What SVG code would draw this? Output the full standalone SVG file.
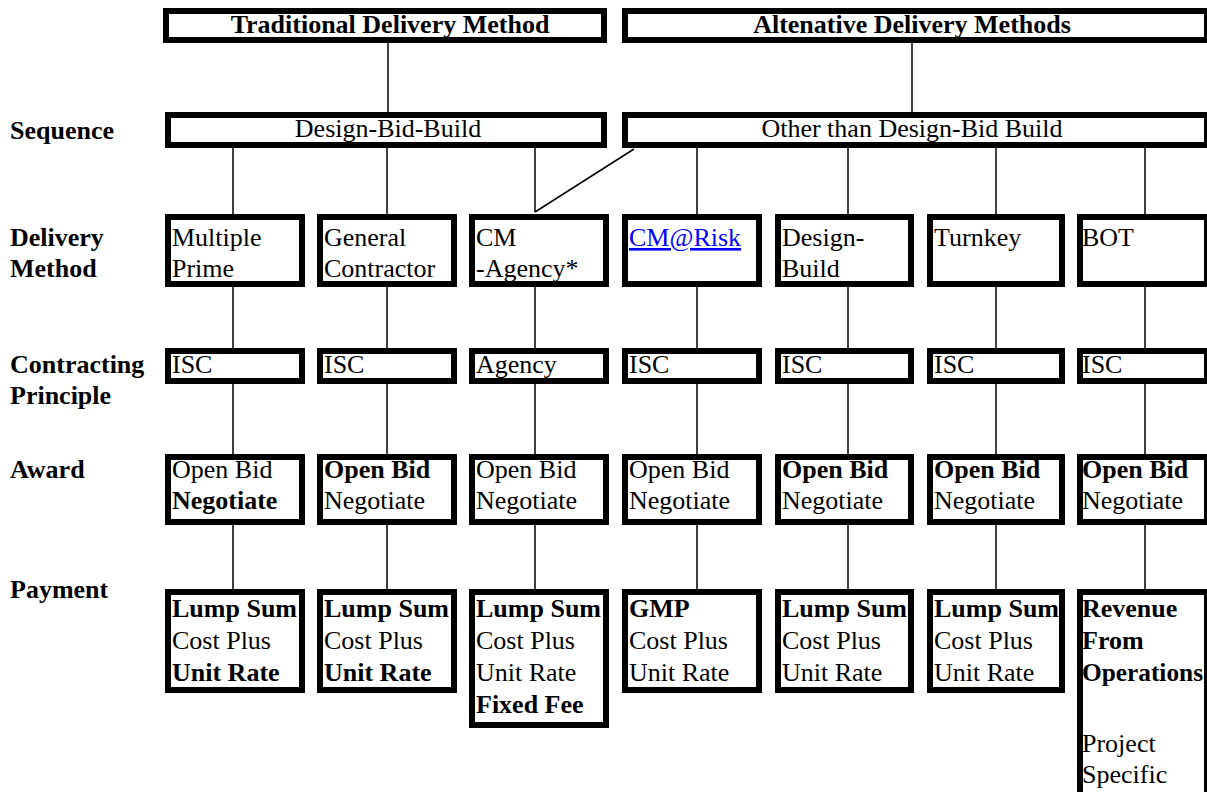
<svg xmlns="http://www.w3.org/2000/svg" width="1207" height="792" viewBox="0 0 1207 792">
  <style>
    text { font-family: "Liberation Serif", "Times New Roman", serif; font-size: 26px; fill: #000; }
    .b { font-weight: bold; }
    .c { text-anchor: middle; }
    .box { fill: #fff; stroke: #000; stroke-width: 6; }
    .link { fill: #0000ff; text-decoration: underline; }
    #connectors line { stroke: #000; stroke-width: 1.5; }
  </style>

  <!-- connectors -->
  <g id="connectors">
    <line x1="388" y1="43" x2="388" y2="112"/>
    <line x1="912" y1="43" x2="912" y2="112"/>
    <line x1="233" y1="148" x2="233" y2="214"/>
    <line x1="387" y1="148" x2="387" y2="214"/>
    <line x1="535" y1="148" x2="535" y2="212"/>
    <line x1="535" y1="212" x2="634" y2="149"/>
    <line x1="697" y1="148" x2="697" y2="214"/>
    <line x1="848" y1="148" x2="848" y2="214"/>
    <line x1="996" y1="148" x2="996" y2="214"/>
    <line x1="1145" y1="148" x2="1145" y2="214"/>
    <line x1="233" y1="287" x2="233" y2="348"/>
    <line x1="387" y1="287" x2="387" y2="348"/>
    <line x1="535" y1="287" x2="535" y2="348"/>
    <line x1="697" y1="287" x2="697" y2="348"/>
    <line x1="848" y1="287" x2="848" y2="348"/>
    <line x1="996" y1="287" x2="996" y2="348"/>
    <line x1="1145" y1="287" x2="1145" y2="348"/>
    <line x1="233" y1="384" x2="233" y2="454"/>
    <line x1="387" y1="384" x2="387" y2="454"/>
    <line x1="535" y1="384" x2="535" y2="454"/>
    <line x1="697" y1="384" x2="697" y2="454"/>
    <line x1="848" y1="384" x2="848" y2="454"/>
    <line x1="996" y1="384" x2="996" y2="454"/>
    <line x1="1145" y1="384" x2="1145" y2="454"/>
    <line x1="233" y1="525" x2="233" y2="589"/>
    <line x1="387" y1="525" x2="387" y2="589"/>
    <line x1="535" y1="525" x2="535" y2="589"/>
    <line x1="697" y1="525" x2="697" y2="589"/>
    <line x1="848" y1="525" x2="848" y2="589"/>
    <line x1="996" y1="525" x2="996" y2="589"/>
    <line x1="1145" y1="525" x2="1145" y2="589"/>
  </g>

  <!-- row labels -->
  <g id="labels">
    <text class="b" x="10" y="139">Sequence</text>
    <text class="b" x="10" y="246">Delivery</text>
    <text class="b" x="10" y="277">Method</text>
    <text class="b" x="10" y="373">Contracting</text>
    <text class="b" x="10" y="404">Principle</text>
    <text class="b" x="10" y="478">Award</text>
    <text class="b" x="10" y="598">Payment</text>
  </g>

  <!-- headers -->
  <g id="traditional">
    <rect class="box" x="166" y="11" width="438" height="29"/>
    <text class="b c" x="390" y="33">Traditional Delivery Method</text>
  </g>
  <g id="alternative">
    <rect class="box" x="625" y="11" width="582" height="29"/>
    <text class="b c" x="912" y="33">Altenative Delivery Methods</text>
  </g>

  <!-- sequence -->
  <g id="seq-dbb">
    <rect class="box" x="168" y="115" width="436" height="30"/>
    <text class="c" x="388" y="137">Design-Bid-Build</text>
  </g>
  <g id="seq-other">
    <rect class="box" x="625" y="115" width="582" height="30"/>
    <text class="c" x="912" y="137">Other than Design-Bid Build</text>
  </g>

  <!-- delivery methods -->
  <g id="dm-multiple-prime">
    <rect class="box" x="168" y="217" width="134" height="67"/>
    <text x="172" y="246">Multiple</text><text x="172" y="277">Prime</text>
  </g>
  <g id="dm-general-contractor">
    <rect class="box" x="320" y="217" width="134" height="67"/>
    <text x="324" y="246">General</text><text x="324" y="277">Contractor</text>
  </g>
  <g id="dm-cm-agency">
    <rect class="box" x="472" y="217" width="134" height="67"/>
    <text x="476" y="246">CM</text><text x="476" y="277">-Agency*</text>
  </g>
  <g id="dm-cm-risk">
    <rect class="box" x="625" y="217" width="134" height="67"/>
    <text class="link" x="629" y="246">CM@Risk</text>
  </g>
  <g id="dm-design-build">
    <rect class="box" x="778" y="217" width="133" height="67"/>
    <text x="782" y="246">Design-</text><text x="782" y="277">Build</text>
  </g>
  <g id="dm-turnkey">
    <rect class="box" x="930" y="217" width="132" height="67"/>
    <text x="934" y="246">Turnkey</text>
  </g>
  <g id="dm-bot">
    <rect class="box" x="1080" y="217" width="127" height="67"/>
    <text x="1082" y="246">BOT</text>
  </g>

  <!-- contracting principle -->
  <g id="cp-1"><rect class="box" x="168" y="351" width="134" height="30"/><text x="172" y="373">ISC</text></g>
  <g id="cp-2"><rect class="box" x="320" y="351" width="134" height="30"/><text x="324" y="373">ISC</text></g>
  <g id="cp-3"><rect class="box" x="472" y="351" width="134" height="30"/><text x="476" y="373">Agency</text></g>
  <g id="cp-4"><rect class="box" x="625" y="351" width="134" height="30"/><text x="629" y="373">ISC</text></g>
  <g id="cp-5"><rect class="box" x="778" y="351" width="133" height="30"/><text x="782" y="373">ISC</text></g>
  <g id="cp-6"><rect class="box" x="930" y="351" width="132" height="30"/><text x="934" y="373">ISC</text></g>
  <g id="cp-7"><rect class="box" x="1080" y="351" width="127" height="30"/><text x="1082" y="373">ISC</text></g>

  <!-- award -->
  <g id="aw-1"><rect class="box" x="168" y="457" width="134" height="65"/>
    <text x="172" y="478">Open Bid</text><text class="b" x="172" y="509">Negotiate</text></g>
  <g id="aw-2"><rect class="box" x="320" y="457" width="134" height="65"/>
    <text class="b" x="324" y="478">Open Bid</text><text x="324" y="509">Negotiate</text></g>
  <g id="aw-3"><rect class="box" x="472" y="457" width="134" height="65"/>
    <text x="476" y="478">Open Bid</text><text x="476" y="509">Negotiate</text></g>
  <g id="aw-4"><rect class="box" x="625" y="457" width="134" height="65"/>
    <text x="629" y="478">Open Bid</text><text x="629" y="509">Negotiate</text></g>
  <g id="aw-5"><rect class="box" x="778" y="457" width="133" height="65"/>
    <text class="b" x="782" y="478">Open Bid</text><text x="782" y="509">Negotiate</text></g>
  <g id="aw-6"><rect class="box" x="930" y="457" width="132" height="65"/>
    <text class="b" x="934" y="478">Open Bid</text><text x="934" y="509">Negotiate</text></g>
  <g id="aw-7"><rect class="box" x="1080" y="457" width="127" height="65"/>
    <text class="b" x="1082" y="478">Open Bid</text><text x="1082" y="509">Negotiate</text></g>

  <!-- payment -->
  <g id="pay-1"><rect class="box" x="168" y="592" width="134" height="98"/>
    <text class="b" x="172" y="617">Lump Sum</text><text x="172" y="649">Cost Plus</text><text class="b" x="172" y="681">Unit Rate</text></g>
  <g id="pay-2"><rect class="box" x="320" y="592" width="134" height="98"/>
    <text class="b" x="324" y="617">Lump Sum</text><text x="324" y="649">Cost Plus</text><text class="b" x="324" y="681">Unit Rate</text></g>
  <g id="pay-3"><rect class="box" x="472" y="592" width="134" height="133"/>
    <text class="b" x="476" y="617">Lump Sum</text><text x="476" y="649">Cost Plus</text><text x="476" y="681">Unit Rate</text><text class="b" x="476" y="713">Fixed Fee</text></g>
  <g id="pay-4"><rect class="box" x="625" y="592" width="134" height="98"/>
    <text class="b" x="629" y="617">GMP</text><text x="629" y="649">Cost Plus</text><text x="629" y="681">Unit Rate</text></g>
  <g id="pay-5"><rect class="box" x="778" y="592" width="133" height="98"/>
    <text class="b" x="782" y="617">Lump Sum</text><text x="782" y="649">Cost Plus</text><text x="782" y="681">Unit Rate</text></g>
  <g id="pay-6"><rect class="box" x="930" y="592" width="132" height="98"/>
    <text class="b" x="934" y="617">Lump Sum</text><text x="934" y="649">Cost Plus</text><text x="934" y="681">Unit Rate</text></g>
  <g id="pay-7"><rect class="box" x="1080" y="592" width="127" height="206"/>
    <text class="b" x="1082" y="617">Revenue</text><text class="b" x="1082" y="649">From</text><text class="b" x="1082" y="681" textLength="121" lengthAdjust="spacingAndGlyphs">Operations</text>
    <text x="1082" y="752">Project</text><text x="1082" y="783">Specific</text></g>
</svg>
